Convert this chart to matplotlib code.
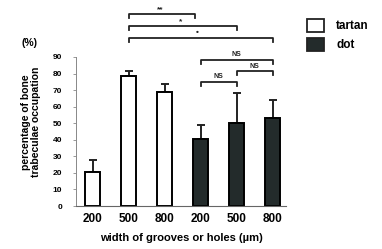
import matplotlib.pyplot as plt
from matplotlib.patches import Patch

plt.rcParams['font.family'] = ['Liberation Sans', 'DejaVu Sans']
plt.rcParams['font.weight'] = 'bold'
plt.rcParams['axes.labelweight'] = 'bold'

# data
widths = ['200', '500', '800', '200', '500', '800']
groups = ['tartan', 'tartan', 'tartan', 'dot', 'dot', 'dot']
means = [20.5, 78.5, 68.8, 40.5, 50.0, 53.0]
upper = [27.8, 81.5, 73.7, 49.0, 68.0, 64.0]
yticks = [0, 10, 20, 30, 40, 50, 60, 70, 80, 90]

# significance brackets: (left bar, right bar, height, label, label x, label y)
brackets = [(1, 2.85, 116, '**', 1.875, 118.5),
            (1, 4, 108.7, '*', 2.46, 111.0),
            (1, 5, 101.4, '•', 2.9, 104.5),
            (3, 5, 88.2, 'NS', 4.0, 91.5),
            (4, 5, 81.5, 'NS', 4.5, 84.5),
            (3, 4, 74.9, 'NS', 3.5, 78.0)]

colors = {'tartan': 'white', 'dot': '#232b2b'}

fig = plt.figure(figsize=(3.82, 2.49), dpi=100)
ax = fig.add_axes([76 / 382, 43 / 249, 210 / 382, 201 / 249])

xs = list(range(len(means)))
errs = [u - m for u, m in zip(upper, means)]
ax.bar(xs, means, width=0.42, color=[colors[g] for g in groups],
       edgecolor='black', linewidth=1.4, zorder=2)
ax.errorbar(xs, means, yerr=[[0] * len(errs), errs], fmt='none',
            ecolor='#222', elinewidth=1.4, capsize=3, capthick=1.4, zorder=1)

for a, b, h, lab, tx, ty in brackets:
    ax.plot([a, a, b, b], [h - 2.5, h, h, h - 2.5], color='#222', lw=1.3,
            clip_on=False)
    ax.text(tx, ty, lab, ha='center', va='center',
            fontsize=5 if lab == 'NS' else 6, color='#222')

ax.set_xlim(-0.46, 5.375)
ax.set_ylim(0, 121.4)
ax.set_xticks(xs)
ax.set_xticklabels(widths, fontsize=8.5)
ax.set_yticks(yticks)
ax.set_yticklabels([str(t) for t in yticks], fontsize=6)
ax.tick_params(axis='x', length=0, pad=5)
ax.tick_params(axis='y', length=2, width=0.6, color='#888', pad=8)

ax.spines['top'].set_visible(False)
ax.spines['right'].set_visible(False)
ax.spines['left'].set_bounds(0, 90)
ax.spines['left'].set_color('#888')
ax.spines['left'].set_linewidth(0.7)
ax.spines['left'].set_linestyle((0, (2, 1)))
ax.spines['bottom'].set_color('#666')
ax.spines['bottom'].set_linewidth(0.8)

ax.set_xlabel('width of grooves or holes (µm)', fontsize=8, labelpad=6)
fig.text(31 / 382, 1 - 122 / 249, 'percentage of bone\ntrabeculae occupation',
         rotation=90, ha='center', va='center', fontsize=7.5, linespacing=1.0)
fig.text(30 / 382, 1 - 43 / 249, '(%)', ha='center', va='center', fontsize=7.5)

handles = [Patch(facecolor=colors[g], edgecolor='#222', linewidth=1.3)
           for g in ['tartan', 'dot']]
fig.legend(handles, ['tartan', 'dot'], loc='upper left',
           bbox_to_anchor=(302 / 382, 1 - 14 / 249), frameon=False,
           fontsize=8.5, handlelength=1.5, handleheight=1.3, labelspacing=0.5,
           handletextpad=1.0, borderaxespad=0)

fig.savefig('out.png', dpi=100)
